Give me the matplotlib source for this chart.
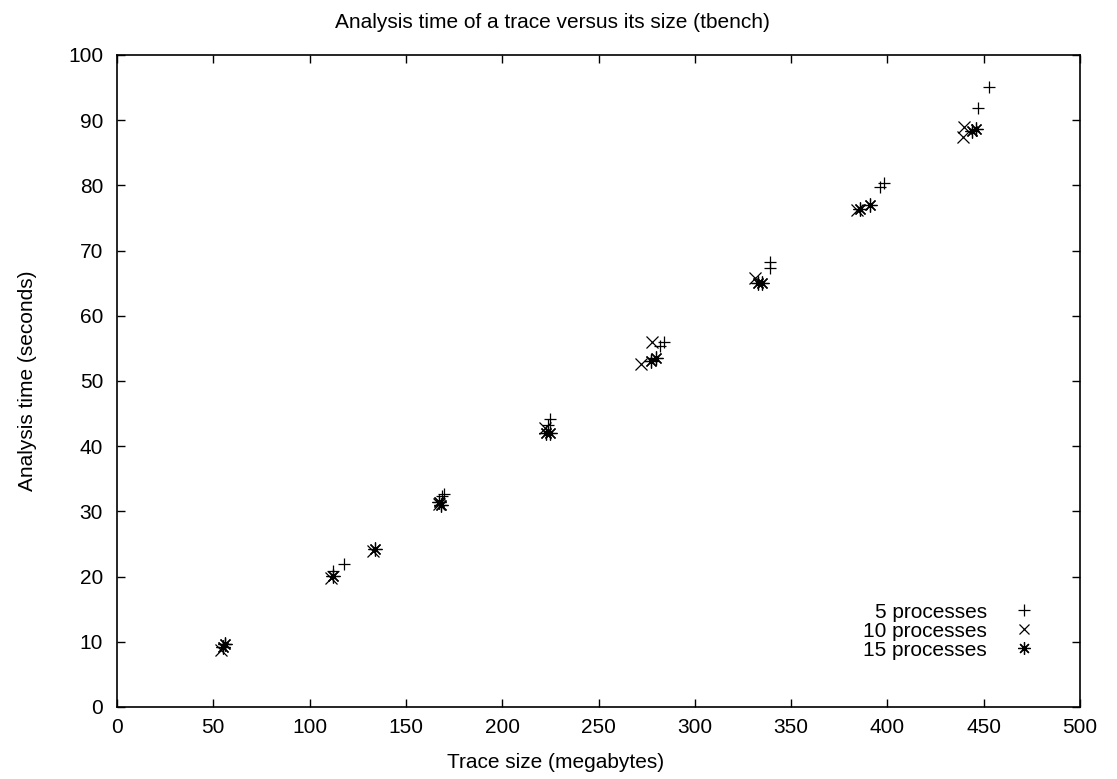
import matplotlib
matplotlib.use('Agg')
import matplotlib.pyplot as plt

plt.rcParams['font.family'] = ['Liberation Sans', 'DejaVu Sans']

# trace size (MB) / analysis time (s)
x5 = [56, 112, 118, 169, 170, 224, 225, 282, 284, 339, 339, 396, 398, 447, 453]
y5 = [9.6, 20.8, 22.0, 32.4, 32.7, 43.3, 44.2, 55.4, 56.0, 67.3, 68.3, 79.8, 80.3, 91.8, 95.1]

x10 = [54, 111, 133, 167, 222, 272, 278, 331, 384, 439, 440]
y10 = [8.8, 19.8, 24.0, 31.2, 42.8, 52.6, 56.0, 65.8, 76.2, 87.4, 89.0]

x15 = [55, 56, 112, 134, 167, 168, 223, 225, 277, 280, 333, 335, 386, 391, 444, 446]
y15 = [9.2, 9.6, 20.1, 24.2, 31.5, 31.0, 42.0, 42.0, 53.1, 53.5, 65.0, 65.0, 76.4, 77.0, 88.4, 88.7]

fig = plt.figure(figsize=(11.17, 7.79), dpi=100)
ax = fig.add_axes([117/1117, 1 - 707/779, (1080-117)/1117, (707-55)/779])

ax.plot(x5, y5, ls='none', marker='+', ms=9, mew=0.9, color='black', label='5 processes')
ax.plot(x10, y10, ls='none', marker='x', ms=8, mew=0.9, color='black', label='10 processes')
ax.plot(x15, y15, ls='none', marker=(8, 2, 0), ms=10, mew=0.9, color='black', label='15 processes')

ax.set_xlim(0, 500)
ax.set_ylim(0, 100)
ax.set_xticks(range(0, 501, 50))
ax.set_yticks(range(0, 101, 10))
ax.tick_params(direction='in', top=True, right=True, length=6, width=1, labelsize=15)
ax.tick_params(axis='y', pad=10)
ax.tick_params(axis='x', pad=8)
for s in ax.spines.values():
    s.set_linewidth(1.2)

# gnuplot centres title and xlabel on the whole canvas
fig.text(0.495, 1 - 22/779, 'Analysis time of a trace versus its size (tbench)',
         fontsize=15, ha='center', va='center')
fig.text(0.497, 1 - 763/779, 'Trace size (megabytes)', fontsize=15, ha='center', va='center')
ax.set_ylabel('Analysis time (seconds)', fontsize=15, labelpad=22)

leg = ax.legend(loc='lower right', frameon=False, markerfirst=False, fontsize=15,
                handlelength=1.2, handletextpad=1.2, labelspacing=0.0, markerscale=0.9,
                borderaxespad=0.0, bbox_to_anchor=(0.964, 0.06))
for t in leg.get_texts():
    t.set_ha('right')
leg._legend_box.align = 'right'

fig.savefig('out.png', dpi=100)
